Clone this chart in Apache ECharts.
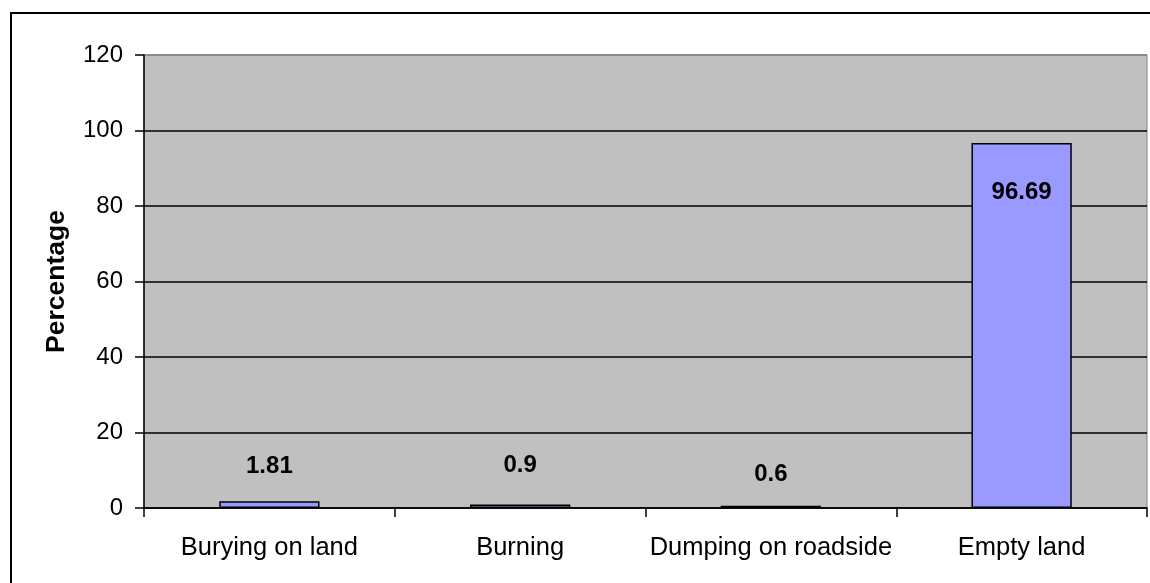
<!DOCTYPE html>
<html>
<head>
<meta charset="utf-8">
<script src="https://cdn.jsdelivr.net/npm/echarts@6/dist/echarts.min.js"></script>
<style>
  html, body { margin: 0; padding: 0; background: #fff; }
  #chart { width: 1150px; height: 583px; }
</style>
</head>
<body>
<div id="chart"></div>
<script>
// Waste disposal methods, share of respondents (%)
const categories = ['Burying on land', 'Burning', 'Dumping on roadside', 'Empty land'];
const values = [1.81, 0.9, 0.6, 96.69];
const yTicks = [0, 20, 40, 60, 80, 100, 120];

// per-bar label placement (position, distance from bar top)
const labelPlacement = [
  { position: 'top', distance: 23 },
  { position: 'top', distance: 27 },
  { position: 'top', distance: 19 },
  { position: 'insideTop', distance: 37 }
];

const FONT = '"Liberation Sans", Arial, sans-serif';

const chart = echarts.init(document.getElementById('chart'), null, { renderer: 'canvas' });

const gridLineColors = yTicks.map((v, i) => (i === yTicks.length - 1 ? '#808080' : '#000000'));

chart.setOption({
  animation: false,
  backgroundColor: '#ffffff',
  graphic: [{
    type: 'rect',
    shape: { x: 11, y: 13, width: 1200, height: 620 },
    style: { fill: 'none', stroke: '#000000', lineWidth: 2 },
    silent: true
  }],
  grid: {
    left: 144, right: 3, top: 55, bottom: 75,
    show: true,
    backgroundColor: '#C0C0C0',
    borderColor: '#808080',
    borderWidth: 1
  },
  xAxis: {
    type: 'category',
    data: categories,
    boundaryGap: true,
    axisLine: { show: true, lineStyle: { color: '#000000', width: 1.5 } },
    axisTick: { show: true, alignWithLabel: false, length: 9, lineStyle: { color: '#000000', width: 1.5 } },
    axisLabel: { interval: 0, color: '#000000', fontFamily: FONT, fontSize: 25.5, margin: 27 },
    splitLine: { show: false }
  },
  yAxis: {
    type: 'value',
    min: yTicks[0],
    max: yTicks[yTicks.length - 1],
    interval: 20,
    name: 'Percentage',
    nameLocation: 'middle',
    nameRotate: 90,
    nameGap: 74,
    nameTextStyle: { color: '#000000', fontFamily: FONT, fontSize: 26.5, fontWeight: 'bold' },
    axisLine: { show: true, lineStyle: { color: '#000000', width: 1.5 } },
    axisTick: { show: true, length: 9, lineStyle: { color: '#000000', width: 1.5 } },
    axisLabel: { color: '#000000', fontFamily: FONT, fontSize: 24, margin: 21 },
    splitLine: { show: true, lineStyle: { color: gridLineColors, width: 1.5 } }
  },
  series: [{
    type: 'bar',
    barWidth: '40%',
    data: values.map((v, i) => ({
      value: v,
      label: {
        show: true,
        position: labelPlacement[i].position,
        distance: labelPlacement[i].distance,
        formatter: String(v),
        color: '#000000',
        fontFamily: FONT,
        fontSize: 24,
        fontWeight: 'bold'
      }
    })),
    itemStyle: { color: '#9999FF', borderColor: '#000000', borderWidth: 1.5 }
  }]
});
</script>
</body>
</html>
